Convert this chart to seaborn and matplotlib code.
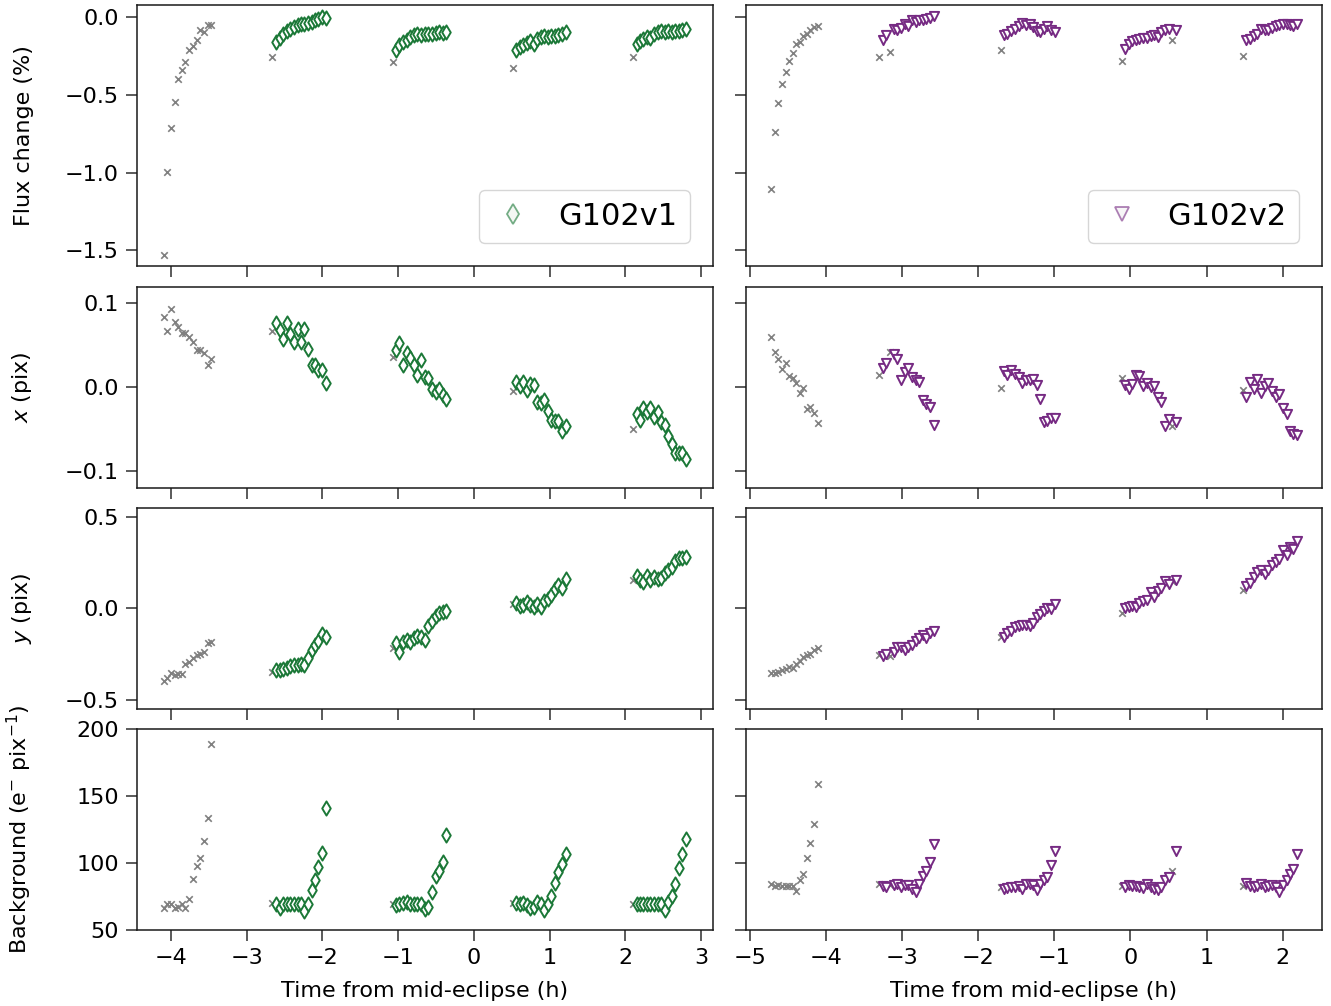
import numpy as np
import pandas as pd
import matplotlib
matplotlib.use("Agg")
import matplotlib.pyplot as plt
from matplotlib.lines import Line2D
import seaborn as sns

# G102v1: five orbits, first orbit (and first exposure of each orbit) discarded
v1_time = [-4.099, -4.055, -4.005, -3.955, -3.906, -3.861, -3.811, -3.762, -3.717, -3.663, -3.613, -3.568, -3.519, -3.479,
           -2.661, -2.611, -2.567, -2.522, -2.472, -2.427, -2.378, -2.328, -2.284, -2.239, -2.189, -2.140, -2.105, -2.056, -2.006, -1.951,
           -1.073, -1.024, -0.984, -0.935, -0.885, -0.840, -0.791, -0.746, -0.701, -0.652, -0.602, -0.553, -0.503, -0.463, -0.414, -0.369,
           0.514, 0.563, 0.608, 0.653, 0.697, 0.742, 0.792, 0.841, 0.886, 0.931, 0.980, 1.025, 1.069, 1.114, 1.169, 1.218,
           2.101, 2.151, 2.190, 2.240, 2.285, 2.334, 2.379, 2.429, 2.473, 2.523, 2.567, 2.612, 2.657, 2.706, 2.756, 2.806]
v1_flux = [-1.533, -0.996, -0.716, -0.548, -0.396, -0.340, -0.292, -0.215, -0.189, -0.146, -0.086, -0.099, -0.054, -0.052,
           -0.254, -0.161, -0.133, -0.108, -0.090, -0.075, -0.065, -0.054, -0.047, -0.043, -0.039, -0.032, -0.022, -0.011, 0.000, -0.004,
           -0.288, -0.211, -0.183, -0.161, -0.146, -0.129, -0.114, -0.108, -0.118, -0.108, -0.112, -0.108, -0.101, -0.097, -0.103, -0.097,
           -0.325, -0.211, -0.194, -0.183, -0.168, -0.155, -0.172, -0.140, -0.129, -0.125, -0.129, -0.125, -0.120, -0.116, -0.108, -0.097,
           -0.254, -0.172, -0.155, -0.140, -0.129, -0.133, -0.108, -0.097, -0.090, -0.097, -0.092, -0.097, -0.090, -0.092, -0.086, -0.075]
v1_xpos = [0.0825, 0.0669, 0.0924, 0.0769, 0.0717, 0.0637, 0.0645, 0.0590, 0.0538, 0.0438, 0.0438, 0.0398, 0.0259, 0.0327,
           0.0669, 0.0757, 0.0677, 0.0566, 0.0757, 0.0625, 0.0538, 0.0689, 0.0530, 0.0689, 0.0446, 0.0267, 0.0259, 0.0199, 0.0199, 0.0052,
           0.0359, 0.0438, 0.0518, 0.0259, 0.0398, 0.0339, 0.0259, 0.0139, 0.0319, 0.0120, 0.0108, -0.0020, -0.0060, -0.0020, -0.0100, -0.0139,
           -0.0052, 0.0060, 0.0008, 0.0060, -0.0040, 0.0032, 0.0020, -0.0179, -0.0191, -0.0151, -0.0279, -0.0390, -0.0398, -0.0398, -0.0518, -0.0458,
           -0.0502, -0.0319, -0.0386, -0.0251, -0.0299, -0.0251, -0.0351, -0.0299, -0.0418, -0.0446, -0.0578, -0.0677, -0.0777, -0.0777, -0.0777, -0.0857]
v1_ypos = [-0.397, -0.382, -0.356, -0.364, -0.360, -0.360, -0.302, -0.296, -0.269, -0.254, -0.247, -0.241, -0.192, -0.186,
           -0.346, -0.338, -0.338, -0.329, -0.324, -0.314, -0.309, -0.309, -0.305, -0.309, -0.269, -0.229, -0.199, -0.177, -0.141, -0.155,
           -0.219, -0.192, -0.241, -0.186, -0.174, -0.186, -0.163, -0.150, -0.159, -0.174, -0.095, -0.068, -0.040, -0.027, -0.022, -0.013,
           0.024, 0.027, 0.015, 0.020, 0.033, 0.020, 0.009, 0.024, 0.009, 0.042, 0.051, 0.075, 0.106, 0.130, 0.112, 0.161,
           0.157, 0.179, 0.155, 0.143, 0.174, 0.155, 0.170, 0.161, 0.166, 0.192, 0.207, 0.225, 0.261, 0.276, 0.276, 0.280]
v1_bg = [66.7, 69.2, 69.7, 66.7, 67.2, 69.7, 66.7, 73.4, 88.4, 97.6, 104.1, 116.3, 134.0, 188.9,
         70.2, 69.7, 66.7, 69.7, 69.7, 69.7, 69.7, 69.7, 69.7, 64.2, 69.2, 80.2, 87.7, 97.1, 107.6, 140.8,
         69.7, 68.5, 69.7, 70.2, 70.9, 69.2, 69.7, 69.2, 69.7, 66.0, 67.2, 78.4, 90.1, 94.1, 100.9, 121.3,
         70.2, 70.2, 69.2, 70.2, 68.5, 66.7, 67.2, 70.9, 69.7, 64.7, 69.7, 75.2, 85.2, 93.4, 99.6, 106.6,
         69.7, 69.7, 69.7, 69.7, 69.7, 69.7, 69.7, 69.7, 69.7, 65.2, 70.9, 75.2, 84.7, 96.6, 106.6, 118.1]
v1_dropped = list(range(14)) + [14, 30, 46, 62]

# G102v2
v2_time = [-4.717, -4.673, -4.623, -4.573, -4.524, -4.479, -4.435, -4.385, -4.340, -4.296, -4.251, -4.201, -4.157, -4.107,
           -3.299, -3.254, -3.204, -3.155, -3.110, -3.061, -3.011, -2.966, -2.917, -2.867, -2.817, -2.773, -2.723, -2.679, -2.629, -2.579,
           -1.706, -1.662, -1.617, -1.567, -1.518, -1.468, -1.424, -1.374, -1.324, -1.275, -1.225, -1.186, -1.141, -1.091, -1.042, -0.997,
           -0.114, -0.069, -0.020, 0.025, 0.069, 0.114, 0.164, 0.213, 0.263, 0.308, 0.357, 0.402, 0.451, 0.501, 0.551, 0.595,
           1.473, 1.518, 1.567, 1.617, 1.662, 1.711, 1.761, 1.811, 1.860, 1.905, 1.954, 1.999, 2.049, 2.093, 2.138, 2.183]
v2_flux = [-1.103, -0.742, -0.553, -0.434, -0.351, -0.286, -0.230, -0.174, -0.161, -0.125, -0.108, -0.086, -0.065, -0.060,
           -0.258, -0.151, -0.114, -0.222, -0.075, -0.082, -0.069, -0.047, -0.060, -0.017, -0.032, -0.022, -0.017, -0.011, -0.004, 0.004,
           -0.215, -0.114, -0.108, -0.090, -0.075, -0.060, -0.039, -0.054, -0.047, -0.065, -0.090, -0.097, -0.075, -0.060, -0.086, -0.097,
           -0.286, -0.204, -0.172, -0.155, -0.146, -0.140, -0.133, -0.135, -0.125, -0.118, -0.129, -0.097, -0.082, -0.075, -0.151, -0.082,
           -0.252, -0.146, -0.140, -0.125, -0.108, -0.075, -0.086, -0.082, -0.069, -0.060, -0.054, -0.047, -0.043, -0.054, -0.060, -0.047]
v2_xpos = [0.0598, 0.0414, 0.0327, 0.0219, 0.0279, 0.0127, 0.0108, 0.0048, -0.0072, -0.0008, -0.0259, -0.0239, -0.0307, -0.0426,
           0.0139, 0.0231, 0.0287, 0.0414, 0.0390, 0.0327, 0.0088, 0.0179, 0.0231, 0.0120, 0.0080, 0.0060, -0.0151, -0.0199, -0.0239, -0.0446,
           -0.0012, 0.0191, 0.0139, 0.0199, 0.0151, 0.0120, 0.0048, 0.0080, 0.0088, 0.0100, 0.0020, -0.0139, -0.0410, -0.0398, -0.0371, -0.0367,
           0.0112, 0.0020, -0.0020, 0.0040, 0.0139, 0.0127, 0.0008, 0.0048, 0.0000, 0.0008, -0.0120, -0.0179, -0.0458, -0.0378, -0.0458, -0.0418,
           -0.0040, -0.0112, 0.0060, -0.0020, 0.0100, -0.0072, 0.0008, 0.0048, -0.0048, -0.0120, -0.0088, -0.0247, -0.0319, -0.0526, -0.0558, -0.0570]
v2_ypos = [-0.351, -0.351, -0.346, -0.338, -0.333, -0.320, -0.327, -0.305, -0.287, -0.265, -0.254, -0.247, -0.229, -0.218,
           -0.254, -0.260, -0.247, -0.261, -0.236, -0.210, -0.214, -0.229, -0.214, -0.199, -0.177, -0.163, -0.144, -0.163, -0.137, -0.126,
           -0.159, -0.159, -0.137, -0.122, -0.104, -0.095, -0.091, -0.090, -0.095, -0.082, -0.046, -0.031, -0.013, 0.002, -0.004, 0.024,
           -0.027, 0.002, 0.009, 0.015, 0.009, 0.027, 0.038, 0.046, 0.088, 0.060, 0.097, 0.112, 0.148, 0.133, 0.150, 0.155,
           0.101, 0.124, 0.137, 0.170, 0.197, 0.210, 0.188, 0.210, 0.234, 0.252, 0.271, 0.316, 0.289, 0.335, 0.325, 0.367]
v2_bg = [84.7, 82.9, 83.4, 82.9, 82.9, 82.9, 82.9, 78.9, 87.7, 92.1, 104.1, 115.1, 129.1, 158.7,
         84.7, 82.7, 82.2, 83.4, 83.4, 84.2, 82.2, 83.4, 83.4, 80.9, 78.4, 84.7, 90.1, 94.1, 100.9, 114.1,
         82.2, 80.9, 81.7, 82.2, 82.2, 82.7, 80.9, 84.2, 84.7, 83.4, 79.7, 84.2, 87.7, 89.6, 98.4, 108.9,
         82.7, 82.2, 83.4, 82.7, 82.7, 82.2, 81.7, 84.7, 82.2, 80.9, 79.7, 82.2, 87.7, 89.6, 94.1, 109.1,
         82.9, 85.2, 82.7, 82.2, 82.7, 84.2, 82.2, 82.7, 83.4, 82.2, 78.4, 83.4, 87.7, 92.1, 95.4, 107.1]
v2_dropped = list(range(14)) + [14, 17, 30, 46, 60, 62]

visits = ["G102v1", "G102v2"]
ylabels = ["Flux change (%)", "$x$ (pix)", "$y$ (pix)", "Background (e$^{-}$ pix$^{-1}$)"]
columns = ["flux", "xpos", "ypos", "bg"]


def make_frame(time, flux, xpos, ypos, bg, dropped):
    df = pd.DataFrame({"time": time, "flux": flux, "xpos": xpos, "ypos": ypos, "bg": bg})
    df["dropped"] = False
    df.loc[dropped, "dropped"] = True
    return df


data = {
    "G102v1": make_frame(v1_time, v1_flux, v1_xpos, v1_ypos, v1_bg, v1_dropped),
    "G102v2": make_frame(v2_time, v2_flux, v2_xpos, v2_ypos, v2_bg, v2_dropped),
}

sns.set_theme(style="ticks")
plt.rcParams["font.family"] = ["DejaVu Sans"]
plt.rcParams["mathtext.fontset"] = "dejavusans"
plt.rcParams["text.color"] = "black"
plt.rcParams["axes.labelcolor"] = "black"
plt.rcParams["xtick.labelcolor"] = "black"
plt.rcParams["ytick.labelcolor"] = "black"

colors = {"G102v1": "#1b7837", "G102v2": "#762a83"}
markers = {"G102v1": "d", "G102v2": "v"}
sizes = {"G102v1": 52, "G102v2": 44}
fs = 16

fig, axes = plt.subplots(4, 2, figsize=(13.31, 10.06), dpi=100,
                         gridspec_kw={"height_ratios": [1.3, 1, 1, 1]})
fig.subplots_adjust(left=0.103, right=0.993, top=0.995, bottom=0.0755,
                    wspace=0.057, hspace=0.094)

xlims = [(-4.45, 3.16), (-5.05, 2.51)]
xticks = [np.arange(-4, 4), np.arange(-5, 3)]
ylims = [(-1.603, 0.077), (-0.119, 0.119), (-0.549, 0.549), (50, 200)]
yticks = [[-1.5, -1.0, -0.5, 0.0], [-0.1, 0.0, 0.1], [-0.5, 0.0, 0.5], [50, 100, 150, 200]]

for j, visit in enumerate(visits):
    df = data[visit]
    bad = df[df["dropped"]]
    good = df[~df["dropped"]]
    for i, col in enumerate(columns):
        ax = axes[i, j]
        sns.scatterplot(data=bad, x="time", y=col, ax=ax, marker="x", color="gray",
                        s=22, linewidth=1.2, zorder=2)
        sns.scatterplot(data=good, x="time", y=col, ax=ax, marker=markers[visit],
                        color="white", edgecolor=colors[visit], s=sizes[visit],
                        linewidth=1.4, zorder=3)
        ax.set_xlim(xlims[j])
        ax.set_xticks(xticks[j])
        ax.set_ylim(ylims[i])
        ax.set_yticks(yticks[i])
        ax.tick_params(labelsize=fs, length=8, width=1.3, color="0.3", pad=5)
        for sp in ax.spines.values():
            sp.set_linewidth(1.1)
            sp.set_color("0.1")
        if i < 3:
            ax.set_xticklabels([])
            ax.set_xlabel("")
        else:
            ax.set_xlabel("Time from mid-eclipse (h)", fontsize=fs, labelpad=9)
        if j == 0:
            ax.set_ylabel(ylabels[i], fontsize=fs, labelpad=22)
        else:
            ax.set_yticklabels([])
            ax.set_ylabel("")

    handle = Line2D([], [], linestyle="none", marker=markers[visit], markersize=10,
                    markerfacecolor=sns.light_palette(colors[visit], 4)[0],
                    markeredgecolor=colors[visit], markeredgewidth=1.3, alpha=0.6)
    axes[0, j].legend(handles=[handle], labels=[visit], loc="lower right",
                      fontsize=22, borderpad=0.4, handletextpad=0.8, handlelength=1.4,
                      borderaxespad=0.75, framealpha=0.8, fancybox=True)

fig.align_ylabels(axes[:, 0])
fig.savefig("out.png", dpi=100)
